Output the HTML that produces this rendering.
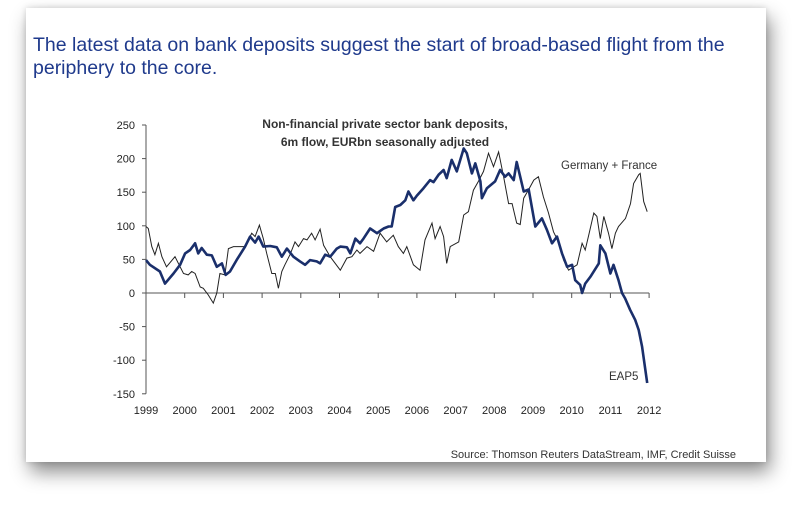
<!DOCTYPE html>
<html><head><meta charset="utf-8"><style>
body{margin:0;width:800px;height:517px;background:#fff;overflow:hidden;font-family:"Liberation Sans",sans-serif}
#panel{position:absolute;left:26px;top:8px;width:740px;height:454px;background:#fff;box-shadow:4px 10px 18px rgba(0,0,0,0.45),0 0 6px rgba(0,0,0,0.15)}
#headline{position:absolute;left:33px;top:34px;font-size:19.5px;line-height:23px;color:#1f3a8c;width:720px}
svg{position:absolute;left:0;top:0}
</style></head><body>
<div id="panel"></div>
<div id="headline">The latest data on bank deposits suggest the start of broad-based flight from the periphery to the core.</div>
<svg id="chart" width="800" height="517"></svg>
<script>
const yTicks=[250,200,150,100,50,0,-50,-100,-150];
const xTicks=[1999,2000,2001,2002,2003,2004,2005,2006,2007,2008,2009,2010,2011,2012];
const eapYears=[
1999.0,1999.10,1999.36,1999.49,1999.71,1999.88,2000.01,2000.14,2000.27,2000.35,
2000.44,2000.57,2000.70,2000.83,2000.96,2001.06,2001.17,2001.34,2001.56,2001.69,
2001.82,2001.91,2002.03,2002.21,2002.38,2002.51,2002.64,2002.81,2002.98,2003.11,
2003.24,2003.41,2003.50,2003.63,2003.76,2003.93,2004.02,2004.19,2004.28,2004.41,
2004.53,2004.62,2004.79,2004.97,2005.14,2005.27,2005.35,
2005.44,2005.57,2005.70,2005.78,2005.91,2006.0,2006.17,2006.34,2006.43,2006.56,
2006.69,2006.77,2006.90,2007.03,2007.21,2007.29,2007.42,2007.51,2007.64,2007.68,
2007.81,2008.02,2008.15,2008.28,2008.37,2008.5,2008.58,2008.67,2008.76,2008.89,
2009.06,2009.23,2009.36,2009.49,2009.62,2009.75,2009.88,2010.01,2010.09,2010.22,
2010.27,2010.35,2010.48,2010.7,2010.74,2010.87,2011.0,2011.08,2011.21,2011.3,
2011.38,2011.51,2011.64,2011.73,2011.82,2011.95];
const eapValues=[
49,42,32,14,29,42,59,64,74,59,
67,57,56,39,44,27,32,49,69,84,
75,84,69,70,68,54,66,54,47,42,
49,47,44,57,54,66,69,68,59,81,
74,81,96,89,96,99,99,
128,131,138,151,138,145,156,168,165,176,
183,171,198,181,215,208,178,193,166,141,
156,166,183,173,178,168,195,173,151,154,
99,111,94,74,84,59,39,42,19,12,
0,14,24,44,71,59,29,42,19,0,
-8,-25,-40,-55,-80,-134];
const gfYears=[
1999.0,1999.06,1999.15,1999.23,1999.32,1999.41,1999.53,1999.75,1999.88,1999.97,
2000.09,2000.18,2000.27,2000.40,2000.48,2000.61,2000.74,2000.83,2000.91,2001.04,
2001.13,2001.26,2001.56,2001.73,2001.82,2001.93,2002.03,2002.12,2002.25,2002.34,
2002.42,2002.51,2002.59,2002.72,2002.85,2002.94,2003.07,2003.16,2003.28,2003.37,
2003.5,2003.59,2003.76,2004.02,2004.19,2004.32,2004.45,2004.53,2004.71,2004.88,
2005.05,2005.22,
2005.39,2005.52,2005.65,2005.74,2005.91,2006.08,2006.21,2006.39,2006.47,2006.6,
2006.69,2006.77,2006.86,2007.08,2007.21,2007.33,2007.46,2007.59,2007.72,2007.85,
2007.98,2008.11,2008.24,2008.37,2008.46,2008.58,2008.67,2008.76,2008.89,2009.02,
2009.14,2009.27,2009.4,2009.53,2009.66,2009.79,2009.92,2010.14,2010.27,2010.35,
2010.44,2010.57,2010.65,2010.74,2010.83,2010.95,2011.04,2011.13,2011.21,2011.39,
2011.52,2011.6,2011.73,2011.77,2011.86,2011.95];
const gfValues=[
99,96,69,57,74,54,39,54,39,29,
27,32,29,9,7,-3,-15,0,29,27,
66,69,69,89,84,101,81,59,29,29,
7,32,42,57,76,69,81,79,89,79,
95,71,54,34,52,54,64,59,69,62,
89,76,
86,69,59,69,42,34,79,104,81,99,
84,44,69,76,116,121,153,166,181,208,
188,210,173,133,133,104,102,141,154,168,
173,143,119,91,76,49,34,42,74,64,
86,119,114,81,114,89,66,89,99,111,
133,163,176,178,136,121];
const NS='http://www.w3.org/2000/svg';
const svg=document.getElementById('chart');
const x0=146,xPerYear=38.7,y0=293,pxPerUnit=0.672;
function xs(v){return x0+(v-1999)*xPerYear;}
function ys(v){return y0-v*pxPerUnit;}
function mk(tag,attrs){const e=document.createElementNS(NS,tag);for(const k in attrs)e.setAttribute(k,attrs[k]);svg.appendChild(e);return e;}
const ya=mk('line',{x1:xs(1999),x2:xs(1999),y1:ys(250),y2:ys(-150),stroke:'#555','stroke-width':1});


yTicks.forEach(t=>{
  const l=mk('line',{x1:xs(1999)-4,x2:xs(1999),y1:ys(t),y2:ys(t),stroke:'#555'});
  
  
  const tx=mk('text',{x:xs(1999)-11,y:ys(t)+4,'text-anchor':'end','font-size':'11',fill:'#222'});
  tx.textContent=t;
  
  
});
const xa=mk('line',{x1:xs(1999),x2:xs(2012),y1:ys(0),y2:ys(0),stroke:'#555'});


xTicks.forEach(t=>{
  if(t>1999){const l=mk('line',{x1:xs(t),x2:xs(t),y1:ys(0),y2:ys(0)+5,stroke:'#555'});
  
  }
  const tx=mk('text',{x:xs(t),y:414,'text-anchor':'middle','font-size':'11',fill:'#222'});
  tx.textContent=t;
  
  
});
function path(years,vals){const n=Math.min(years.length,vals.length);let d='';for(let i=0;i<n;i++)d+=(i?'L':'M')+xs(years[i]).toFixed(1)+' '+ys(vals[i]).toFixed(1)+' ';return d;}
const g=mk('path',{d:path(gfYears,gfValues),fill:'none',stroke:'#222','stroke-width':1});


const b=mk('path',{d:path(eapYears,eapValues),fill:'none',stroke:'#1a2f6b','stroke-width':2.6,'stroke-linejoin':'round'});


function label(txt,x,y,size,weight,anchor,name){const t=mk('text',{x:x,y:y,'font-size':size,'font-weight':weight,'text-anchor':anchor,fill:'#333'});t.textContent=txt;

}
label('Non-financial private sector bank deposits,',385,128,12,'bold','middle','chart-title-line1');
label('6m flow, EURbn seasonally adjusted',385,146,12,'bold','middle','chart-title-line2');
label('Germany + France',561,169,11.5,'normal','start','germany-france-label');
label('EAP5',609,380,11.5,'normal','start','eap5-label');
label('Source: Thomson Reuters DataStream, IMF, Credit Suisse',736,458,11,'normal','end','source-note');
</script>
</body></html>
